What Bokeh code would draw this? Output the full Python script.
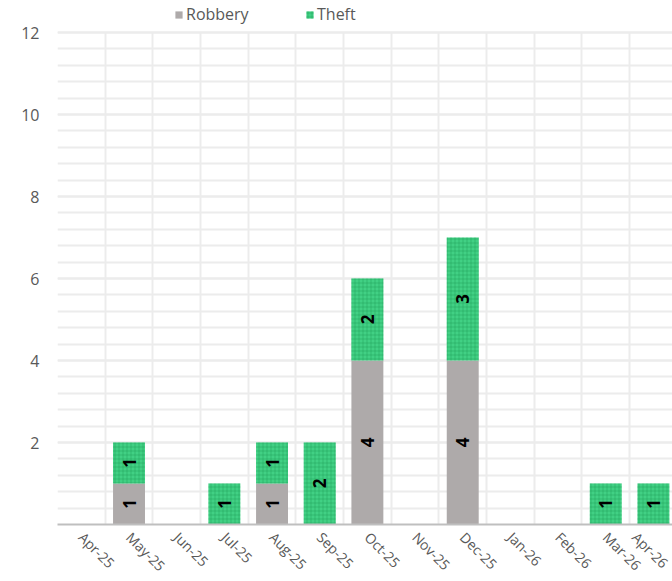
import math
from bokeh.plotting import figure
from bokeh.models import (Range1d, FixedTicker, SingleIntervalTicker, ColumnDataSource,
                          Legend, LegendItem)
from bokeh.core.properties import value
from bokeh.embed import file_html
from bokeh.resources import INLINE

months = ["Apr-25", "May-25", "Jun-25", "Jul-25", "Aug-25", "Sep-25", "Oct-25",
          "Nov-25", "Dec-25", "Jan-26", "Feb-26", "Mar-26", "Apr-26"]
robbery = [0, 1, 0, 0, 1, 0, 4, 0, 4, 0, 0, 0, 0]
theft = [0, 1, 0, 1, 1, 2, 2, 0, 3, 0, 0, 1, 1]
y_max = 12

FONT = "Open Sans"
GRAY = "#aeaaaa"
GREEN = "#41d084"
TXT = "#595959"
GRID = "#ececec"

xc = [i + 0.5 for i in range(len(months))]
top_r = robbery
top_t = [r + t for r, t in zip(robbery, theft)]

FH = 524          # frame reaches the top of the canvas; legend sits in its top strip
PLOT_H = 492      # pixel height of the 0..12 value area
p = figure(frame_width=615, frame_height=FH, output_backend="svg", toolbar_location=None,
           x_range=Range1d(0, 12.9), y_range=Range1d(0, y_max * FH / PLOT_H),
           min_border_left=57, min_border_right=0, min_border_top=0, min_border_bottom=0)
p.outline_line_color = None
p.background_fill_color = "white"
p.border_fill_color = "white"

# grids
p.xgrid.ticker = FixedTicker(ticks=list(range(len(months) + 1)))
p.xgrid.cross_bounds = (0, y_max)
p.xgrid.grid_line_color = GRID
p.xgrid.grid_line_width = 2
p.yaxis.ticker = SingleIntervalTicker(interval=2, num_minor_ticks=5)
p.ygrid.bounds = (0, y_max)
p.ygrid.grid_line_color = GRID
p.ygrid.grid_line_width = 2
p.ygrid.minor_grid_line_color = GRID
p.ygrid.minor_grid_line_width = 2

# bars
src = ColumnDataSource(dict(x=xc, r=top_r, t=top_t, rv=robbery, tv=theft))
rb = p.vbar(x="x", bottom=0, top="r", width=0.67, source=src,
            fill_color=GRAY, line_color=None)
tb = p.vbar(x="x", bottom="r", top="t", width=0.67, source=src,
            fill_color=GREEN, line_color=None,
            hatch_pattern="+", hatch_color="#1f9e57", hatch_alpha=0.45,
            hatch_scale=4, hatch_weight=1)

# labels
lr = [(x, r / 2, str(r)) for x, r in zip(xc, robbery) if r > 0]
lt = [(x, r + t / 2, str(t)) for x, r, t in zip(xc, robbery, theft) if t > 0]
for lab in (lr, lt):
    p.text(x=[a[0] for a in lab], y=[a[1] for a in lab], text=[a[2] for a in lab],
           angle=math.pi / 2, text_align="center", text_baseline="middle",
           text_font=value(FONT), text_font_size="17px", text_font_style="bold",
           text_color="black")

# axes
p.xaxis.ticker = FixedTicker(ticks=xc)
p.xaxis.major_label_overrides = {x: m for x, m in zip(xc, months)}
p.xaxis.major_label_orientation = -math.pi / 4
p.xaxis.axis_line_color = "#bfbfbf"
p.xaxis.axis_line_width = 2
p.xaxis.major_tick_line_color = None
p.xaxis.minor_tick_line_color = None
p.xaxis.major_label_text_font = FONT
p.xaxis.major_label_text_font_size = "14px"
p.xaxis.major_label_text_color = TXT
p.xaxis.major_label_standoff = 4

p.yaxis.axis_line_color = None
p.yaxis.major_tick_line_color = None
p.yaxis.minor_tick_line_color = None
p.yaxis.major_label_text_font = FONT
p.yaxis.major_label_text_font_size = "16px"
p.yaxis.major_label_text_color = TXT
p.yaxis.major_label_standoff = 12
p.yaxis.major_label_overrides = {0: ""}

# legend in the top strip of the frame
lg = Legend(items=[LegendItem(label="Robbery", renderers=[rb]),
                   LegendItem(label="Theft", renderers=[tb])],
            location=(117, FH - 25), orientation="horizontal",
            padding=0, margin=0, border_line_color=None, background_fill_alpha=0,
            glyph_width=9, glyph_height=9, label_standoff=3, label_height=20,
            label_width=110, spacing=9,
            label_text_font=FONT, label_text_font_size="16px", label_text_color=TXT)
p.add_layout(lg, "center")

open("out.html", "w").write(file_html(p, INLINE))
